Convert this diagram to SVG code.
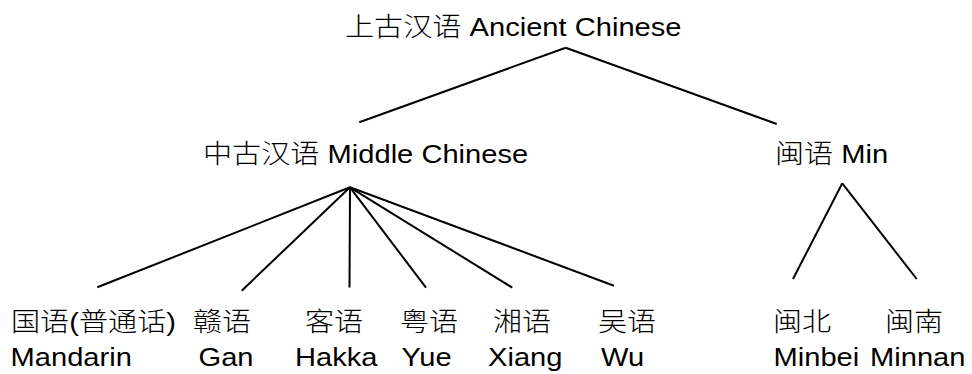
<svg xmlns="http://www.w3.org/2000/svg" width="972" height="374" viewBox="0 0 972 374">
<style>
text{font-family:"Liberation Sans","Noto Sans CJK SC",sans-serif;font-size:26px;fill:#000}
.cjk{font-family:"Noto Sans CJK SC",sans-serif;font-weight:300}
#connectors line{stroke:#000;stroke-width:2;stroke-linecap:butt}
</style>
<rect width="972" height="374" fill="#fff"/>
<g id="connectors">
<line x1="565.7" y1="47.7" x2="359.3" y2="122.3"/>
<line x1="565.7" y1="47.7" x2="776.7" y2="124"/>
<line x1="350" y1="187.3" x2="97.3" y2="287.3"/>
<line x1="350" y1="187.3" x2="241.7" y2="290.7"/>
<line x1="350" y1="187.3" x2="349.5" y2="287.5"/>
<line x1="350" y1="187.3" x2="426" y2="287.7"/>
<line x1="350" y1="187.3" x2="512.3" y2="287.7"/>
<line x1="350" y1="187.3" x2="614" y2="285.7"/>
<line x1="842.3" y1="183.3" x2="793" y2="279"/>
<line x1="842.3" y1="183.3" x2="916.7" y2="279"/>
</g>
<g id="ancient">
<text transform="matrix(1.12 0 0 1 345 36)"><tspan class="cjk">上古汉语</tspan> Ancient Chinese</text>
</g>
<g id="middle">
<text transform="matrix(1.12 0 0 1 203 163)"><tspan class="cjk">中古汉语</tspan> Middle Chinese</text>
</g>
<g id="min">
<text transform="matrix(1.12 0 0 1 775 163)"><tspan class="cjk">闽语</tspan> Min</text>
</g>
<g id="mandarin">
<text transform="matrix(1.12 0 0 1 11 331)"><tspan class="cjk">国语</tspan>(<tspan class="cjk">普通话</tspan>)</text>
<text transform="matrix(1.12 0 0 1 10.5 366)">Mandarin</text>
</g>
<g id="gan">
<text class="cjk" transform="matrix(1.12 0 0 1 193 331)">赣语</text>
<text transform="matrix(1.12 0 0 1 198.5 366)">Gan</text>
</g>
<g id="hakka">
<text class="cjk" transform="matrix(1.12 0 0 1 305 331)">客语</text>
<text transform="matrix(1.12 0 0 1 295 366)">Hakka</text>
</g>
<g id="yue">
<text class="cjk" transform="matrix(1.12 0 0 1 400 331)">粤语</text>
<text transform="matrix(1.12 0 0 1 401.5 366)">Yue</text>
</g>
<g id="xiang">
<text class="cjk" transform="matrix(1.12 0 0 1 493 331)">湘语</text>
<text transform="matrix(1.12 0 0 1 488 366)">Xiang</text>
</g>
<g id="wu">
<text class="cjk" transform="matrix(1.12 0 0 1 598 331)">吴语</text>
<text transform="matrix(1.12 0 0 1 601 366)">Wu</text>
</g>
<g id="minbei">
<text class="cjk" transform="matrix(1.12 0 0 1 773 331)">闽北</text>
<text transform="matrix(1.12 0 0 1 773.5 366)">Minbei</text>
</g>
<g id="minnan">
<text class="cjk" transform="matrix(1.12 0 0 1 885 331)">闽南</text>
<text transform="matrix(1.12 0 0 1 870 366)">Minnan</text>
</g>
</svg>
